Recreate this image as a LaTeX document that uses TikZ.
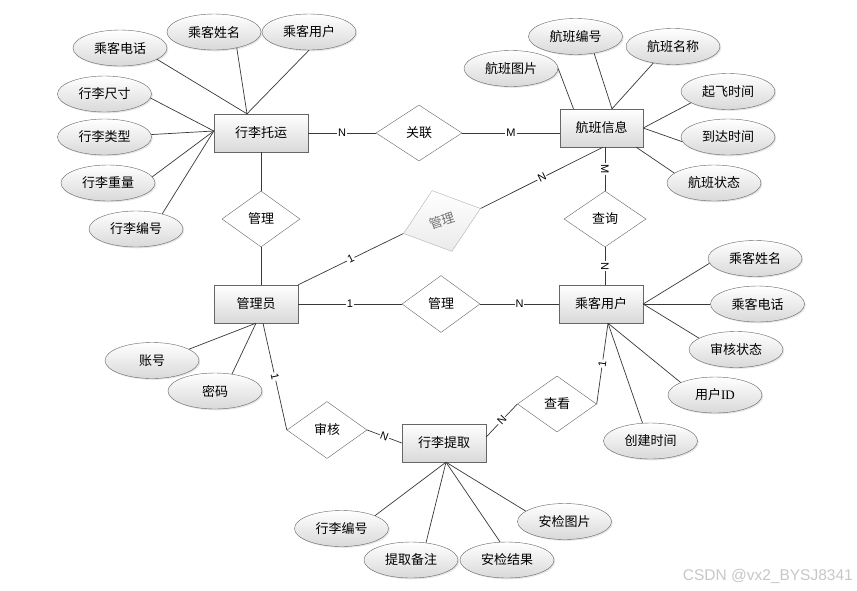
\documentclass[tikz,border=0pt]{standalone}
\usepackage{fontspec}
\setmainfont{Noto Sans CJK SC}
\newfontfamily\lab{Liberation Sans}
\newfontfamily\ser{Liberation Serif}
\usetikzlibrary{shapes.geometric,calc,shadows}
\begin{document}
\begin{tikzpicture}[x=1pt,y=-1pt,
  every node/.style={font=\fontsize{13}{15}\selectfont},
  shad/.style={drop shadow={shadow xshift=1.3pt,shadow yshift=-1.3pt,opacity=0.2}},
  ent/.style={rectangle, draw=black!60, top color=white, bottom color=black!15, minimum width=84pt, minimum height=38pt, inner sep=0pt, shad},
  attr/.style={ellipse, draw=black!60, top color=white, bottom color=black!15, minimum width=94pt, minimum height=36pt, inner sep=0pt, shad},
  rel/.style={diamond, draw=black!60, fill=white, minimum width=78pt, minimum height=56pt, inner sep=0pt},
  conn/.style={draw=black!78, line width=0.7pt},
  card/.style={font=\lab\fontsize{11}{12}\selectfont, fill=white, inner sep=1pt}
]
\useasboundingbox (0,0) rectangle (857,590);
\fill[white] (0,0) rectangle (857,590);

% entities
\node[ent, minimum width=94pt] (tuo) at (261,133) {行李托运};
\node[ent, minimum width=83pt] (hb) at (601.5,128) {航班信息};
\node[ent] (gly) at (256,304) {管理员};
\node[ent] (ck) at (601,304) {乘客用户};
\node[ent] (tq) at (444,443) {行李提取};

% relations
\node[rel, minimum width=86pt] (gl) at (419,133) {关联};
\node[rel] (gm1) at (261,219) {管理};
\node[rel, minimum width=81pt, minimum height=64pt, rotate=18, draw=black!30, top color=white, bottom color=black!8, text=black!55] (gm2) at (442,221) {管理};
\node[rel, minimum width=82pt] (cx) at (605,219) {查询};
\node[rel, minimum height=57pt] (gm3) at (441,304) {管理};
\node[rel, minimum width=80pt, minimum height=57pt] (sh) at (327,430) {审核};
\node[rel, minimum width=79pt] (chk) at (557,404) {查看};

% attributes of 行李托运
\node[attr] (a1) at (120,48) {乘客电话};
\node[attr] (a2) at (214,32) {乘客姓名};
\node[attr] (a3) at (309,32) {乘客用户};
\node[attr] (a4) at (104.5,94) {行李尺寸};
\node[attr] (a5) at (104.5,137) {行李类型};
\node[attr] (a6) at (108,183) {行李重量};
\node[attr] (a7) at (136,229) {行李编号};
% attributes of 航班信息
\node[attr] (b1) at (511,68.5) {航班图片};
\node[attr] (b2) at (575.5,36.5) {航班编号};
\node[attr] (b3) at (673,46.5) {航班名称};
\node[attr] (b4) at (728,91.5) {起飞时间};
\node[attr] (b5) at (728,137) {到达时间};
\node[attr] (b6) at (714,183) {航班状态};
% attributes of 乘客用户
\node[attr] (c1) at (755,258.5) {乘客姓名};
\node[attr] (c2) at (757.5,304) {乘客电话};
\node[attr] (c3) at (736,349.5) {审核状态};
\node[attr] (c4) at (715,395) {用户{\ser ID}};
\node[attr] (c5) at (650.5,441) {创建时间};
% attributes of 管理员
\node[attr] (d1) at (152,360.5) {账号};
\node[attr] (d2) at (215,391) {密码};
% attributes of 行李提取
\node[attr] (e1) at (341.5,528.5) {行李编号};
\node[attr] (e2) at (411,560) {提取备注};
\node[attr] (e3) at (507,560) {安检结果};
\node[attr] (e4) at (564.5,521.5) {安检图片};

% attribute connectors
\draw[conn] (a1.-17) -- ($(tuo.north)+(-14,0)$);
\draw[conn] (a2.-35) -- ($(tuo.north)+(-14,0)$);
\draw[conn] (a3.south) -- ($(tuo.north)+(-14,0)$);
\draw[conn] (a4.-5) -- ($(tuo.west)+(0,-2)$);
\draw[conn] (a5.3) -- ($(tuo.west)+(0,-2)$);
\draw[conn] (a6.8) -- ($(tuo.west)+(0,-2)$);
\draw[conn] (a7.30) -- ($(tuo.west)+(0,-2)$);

\draw[conn] (b1.east) -- ($(hb.north)+(-28,0)$);
\draw[conn] (b2.-42) -- ($(hb.north)+(10.5,0)$);
\draw[conn] (b3.-140) -- ($(hb.north)+(10.5,0)$);
\draw[conn] (b4.-163) -- (hb.east);
\draw[conn] (b5.-174) -- (hb.east);
\draw[conn] (b6.166) -- ($(hb.south east)+(-7,0)$);

\draw[conn] (c1.-174) -- (ck.east);
\draw[conn] (c2.west) -- (ck.east);
\draw[conn] (c3.163) -- (ck.east);
\draw[conn] (c4.160) -- ($(ck.south)+(7,0)$);
\draw[conn] (c5.114) -- ($(ck.south)+(7,0)$);

\draw[conn] (d1.17) -- (gly.south);
\draw[conn] (d2.45) -- (gly.south);

\draw[conn] (e1.21) -- ($(tq.south)+(2,0)$);
\draw[conn] (e2.49) -- ($(tq.south)+(2,0)$);
\draw[conn] (e3.111) -- ($(tq.south)+(2,0)$);
\draw[conn] (e4.165) -- ($(tq.south)+(2,0)$);

% relationship connectors
\draw[conn] (tuo.east) -- node[card] {N} (gl.west);
\draw[conn] (gl.east) -- node[card] {M} (gl.east -| hb.west);
\draw[conn] (tuo.south -| gm1.north) -- (gm1.north);
\draw[conn] (gm1.south) -- (gm1.south |- gly.north);
\draw[conn] (gly.north east) -- node[card, sloped] {1} (gm2.west);
\draw[conn] (gm2.east) -- node[card, sloped] {N} ($(hb.south)+(1.5,0)$);
\draw[conn] (cx.north |- hb.south) -- node[card, sloped] {M} (cx.north);
\draw[conn] (cx.south) -- node[card, sloped] {N} (cx.south |- ck.north);
\draw[conn] (gly.east) -- node[card] {1} (gm3.west);
\draw[conn] (gm3.east) -- node[card] {N} (ck.west);
\draw[conn] ($(gly.south)+(7,0)$) -- node[card, sloped] {1} (sh.west);
\draw[conn] (sh.east) -- node[card, sloped] {N} (tq.west);
\draw[conn] ($(tq.east)+(0,-6)$) -- node[card, sloped] {N} (chk.west);
\draw[conn] (chk.east) -- node[card, sloped] {1} ($(ck.south)+(7,0)$);

% watermark
\node[font=\lab\fontsize{15.5}{17}\selectfont, text=black!22, anchor=east, inner sep=0pt] (wm) at (853,576) {CSDN @vx2\_BYSJ8341};
\end{tikzpicture}
\end{document}
